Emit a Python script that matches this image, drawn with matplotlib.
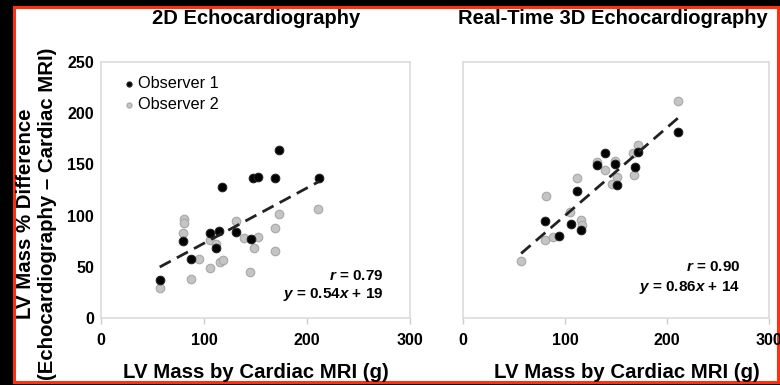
import matplotlib
matplotlib.use('Agg')
import matplotlib.pyplot as plt
from matplotlib.patches import Rectangle

# Ecocardiografia 2D: (massa MRI, % diferença)
obs1_2d_x = [57, 80, 87.5, 106, 115, 112, 131, 146, 117, 148, 152, 169, 173, 212]
obs1_2d_y = [37, 75, 58, 83, 85, 68, 84, 77, 128, 137, 138, 137, 164, 137]
obs2_2d_x = [57, 81, 81, 80, 87.5, 95, 106, 112, 106, 116, 118, 131, 139, 152, 149, 145, 169, 173, 169, 211]
obs2_2d_y = [29, 97, 93, 83, 38, 58, 76, 72, 48.5, 55, 57, 95, 78, 79, 68, 45, 88, 102, 65, 106]

# Ecocardiografia 3D em tempo real
obs1_3d_x = [80, 94, 106, 116, 112, 139, 131, 149, 151, 169, 172, 211]
obs1_3d_y = [95, 80, 92, 86, 124, 161, 149, 150, 130, 147, 162, 182]
obs2_3d_x = [57, 80, 88, 105, 116, 117, 81, 112, 131, 139, 149, 146, 151, 167, 172, 168, 211]
obs2_3d_y = [56, 76, 79, 104, 96, 91, 119, 137, 152, 145, 153, 131, 138, 161, 169, 140, 212]

# Regressões (inclinação, intercepto) e r
fit_2d = (0.54, 19)
fit_3d = (0.86, 14)
r_2d = '0.79'
r_3d = '0.90'

plt.rcParams['font.family'] = 'Liberation Sans'
plt.rcParams['mathtext.fontset'] = 'custom'
plt.rcParams['mathtext.it'] = 'Liberation Sans:italic:bold'
plt.rcParams['mathtext.rm'] = 'Liberation Sans:bold'

W, H = 780, 385
fig = plt.figure(figsize=(7.8, 3.85), dpi=100, facecolor='black')
fig.patches.append(Rectangle((14 / W, 1 - 382 / H), 764 / W, 375 / H, transform=fig.transFigure,
                             facecolor='white', edgecolor='#ff3010', linewidth=2.2, zorder=-5))

ax1 = fig.add_axes([101 / W, 1 - 318 / H, 309 / W, 256 / H])
ax2 = fig.add_axes([463 / W, 1 - 318 / H, 306 / W, 256 / H])

grey = '#c4c4c4'
grey_edge = '#a8a8a8'


def draw(ax, x1, y1, x2, y2, fit, r, txt_x, txt_y, show_y):
    ax.scatter(x2, y2, s=38, color=grey, edgecolor=grey_edge, linewidth=0.8, zorder=2, label='Observer 2')
    ax.scatter(x1, y1, s=38, color='black', edgecolor='#222222', linewidth=0.8, zorder=3, label='Observer 1')
    xs = x1 + x2
    lx = [min(xs), max(xs)]
    ax.plot(lx, [fit[0] * v + fit[1] for v in lx], color='#222222', lw=2.0,
            linestyle=(0, (4.5, 2.5)), zorder=4)
    ax.set_xlim(0, 300)
    ax.set_ylim(0, 250)
    ax.set_xticks([0, 100, 200, 300])
    ax.set_yticks([0, 50, 100, 150, 200, 250])
    for s in ax.spines.values():
        s.set_color('#dcdcdc')
        s.set_linewidth(1.2)
    ax.tick_params(axis='x', length=4, width=1, color='#cccccc', pad=7, labelsize=11.5)
    ax.tick_params(axis='y', length=0, pad=5, labelsize=11.5, labelleft=show_y)
    for lab in ax.get_xticklabels() + ax.get_yticklabels():
        lab.set_fontweight('bold')
    ax.text(txt_x, txt_y[0], '$r$ = ' + r, transform=ax.transAxes, ha='right', va='center',
            fontsize=11, fontweight='bold')
    ax.text(txt_x, txt_y[1], '$y$ = %.2f$x$ + %d' % fit, transform=ax.transAxes, ha='right',
            va='center', fontsize=11, fontweight='bold')


draw(ax1, obs1_2d_x, obs1_2d_y, obs2_2d_x, obs2_2d_y, fit_2d, r_2d, 0.913, (0.164, 0.09), True)
draw(ax2, obs1_3d_x, obs1_3d_y, obs2_3d_x, obs2_3d_y, fit_3d, r_3d, 0.905, (0.198, 0.12), False)

h, l = ax1.get_legend_handles_labels()
ax1.legend(h[::-1], l[::-1], loc='upper left', bbox_to_anchor=(0.07, 0.945), frameon=False,
           markerscale=0.6, handletextpad=0.15, handlelength=0.8, labelspacing=0.35,
           borderaxespad=0, borderpad=0, prop={'size': 11.7})

fig.text(256 / W, 1 - 18 / H, '2D Echocardiography', ha='center', va='center',
         fontsize=14.5, fontweight='bold')
fig.text(613 / W, 1 - 18 / H, 'Real-Time 3D Echocardiography', ha='center', va='center',
         fontsize=14.5, fontweight='bold')
fig.text(256 / W, 1 - 372 / H, 'LV Mass by Cardiac MRI (g)', ha='center', va='center',
         fontsize=14.7, fontweight='bold')
fig.text(627 / W, 1 - 372 / H, 'LV Mass by Cardiac MRI (g)', ha='center', va='center',
         fontsize=14.7, fontweight='bold')
fig.text(37 / W, 1 - 214 / H, 'LV Mass % Difference\n(Echocardiography \u2013 Cardiac MRI)',
         ha='center', va='center', rotation=90, fontsize=14.7, fontweight='bold', linespacing=1.2)

fig.savefig('out.png', dpi=100, facecolor=fig.get_facecolor())
